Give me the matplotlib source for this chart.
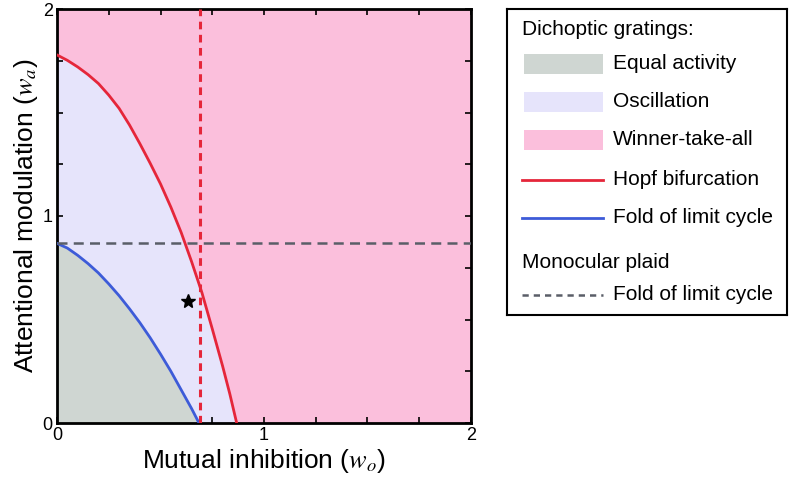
import numpy as np
import matplotlib.pyplot as plt
from matplotlib.patches import Rectangle

plt.rcParams['font.family'] = ['Liberation Sans', 'DejaVu Sans']
plt.rcParams['mathtext.fontset'] = 'stix'

# Hopf bifurcation curve (w_o, w_a)
hopf_wo = [0.0, 0.05, 0.1, 0.15, 0.2, 0.25, 0.3, 0.35, 0.4, 0.45, 0.5, 0.55, 0.6, 0.65, 0.7, 0.75, 0.8, 0.835, 0.868]
hopf_wa = [1.778, 1.752, 1.72, 1.683, 1.64, 1.584, 1.52, 1.44, 1.35, 1.255, 1.155, 1.043, 0.92, 0.78, 0.63, 0.455, 0.275, 0.14, 0.0]

# fold of limit cycle (dichoptic)
fold_wo = [0.0, 0.05, 0.1, 0.15, 0.2, 0.25, 0.3, 0.35, 0.4, 0.45, 0.5, 0.55, 0.6, 0.65, 0.686]
fold_wa = [0.868, 0.845, 0.81, 0.77, 0.725, 0.672, 0.615, 0.552, 0.485, 0.412, 0.333, 0.25, 0.16, 0.07, 0.0]

plaid_fold_wa = 0.871   # monocular plaid fold (horizontal)
vline_wo = 0.691        # vertical dashed line
star = (0.634, 0.589)

c_equal = '#cfd6d2'
c_osc = '#e6e4fb'
c_wta = '#fbbfdc'
c_hopf = '#e5263a'
c_fold = '#3d5bd8'
c_plaid = '#5a5e68'

fig = plt.figure(figsize=(7.96, 4.97), dpi=100)
ax = fig.add_axes([57/796, 74/497, 414/796, 414/497])
ax.set_facecolor(c_wta)

ax.fill([0] + hopf_wo, [0] + hopf_wa, color=c_osc, lw=0, zorder=1)
ax.fill([0] + fold_wo, [0] + fold_wa, color=c_equal, lw=0, zorder=2)
ax.plot(hopf_wo, hopf_wa, color=c_hopf, lw=2, zorder=3, solid_joinstyle='round')
ax.plot(fold_wo, fold_wa, color=c_fold, lw=2, zorder=3, solid_joinstyle='round')
ax.axhline(plaid_fold_wa, color=c_plaid, lw=1.8, ls=(0, (4, 2.5)), zorder=4)
ax.axvline(vline_wo, color=c_hopf, lw=2.2, ls=(0, (2.5, 1.8)), zorder=4)
ax.plot([star[0]], [star[1]], marker='*', color='black', ms=10, zorder=5)

ax.set_xlim(0, 2)
ax.set_ylim(0, 2)
ax.set_xticks([0, 1, 2])
ax.set_yticks([0, 1, 2])
ax.set_xticks(np.arange(0, 2.01, 0.25), minor=True)
ax.set_yticks(np.arange(0, 2.01, 0.25), minor=True)
ax.tick_params(which='both', direction='in', top=True, right=True, length=4, width=1.2, labelsize=13, pad=3)
for s in ax.spines.values():
    s.set_linewidth(2)
ax.set_xlabel(r'Mutual inhibition ($w_o$)', fontsize=19, labelpad=2)
ax.set_ylabel(r'Attentional modulation ($w_a$)', fontsize=19, labelpad=2)

# legend drawn in its own axes (pixel coords)
lg = fig.add_axes([507/796, (497-315)/497, 280/796, 306/497])
lg.set_xlim(507, 787)
lg.set_ylim(315, 9)
lg.set_xticks([])
lg.set_yticks([])
for s in lg.spines.values():
    s.set_linewidth(1.5)
fs = 15
lg.text(522, 30, 'Dichoptic gratings:', fontsize=fs, va='center')
for yc, col, lab in [(64, c_equal, 'Equal activity'), (102, c_osc, 'Oscillation'), (140, c_wta, 'Winner-take-all')]:
    lg.add_patch(Rectangle((524, yc - 10), 79, 20, color=col, lw=0))
    lg.text(613, yc, lab, fontsize=fs, va='center')
lg.plot([522, 603], [180, 180], color=c_hopf, lw=2)
lg.text(613, 180, 'Hopf bifurcation', fontsize=fs, va='center')
lg.plot([522, 603], [218, 218], color=c_fold, lw=2)
lg.text(613, 218, 'Fold of limit cycle', fontsize=fs, va='center')
lg.text(522, 263, 'Monocular plaid', fontsize=fs, va='center')
lg.plot([522, 603], [295, 295], color=c_plaid, lw=1.8, ls=(0, (2.5, 2)))
lg.text(613, 295, 'Fold of limit cycle', fontsize=fs, va='center')

fig.savefig('out.png', dpi=100)
